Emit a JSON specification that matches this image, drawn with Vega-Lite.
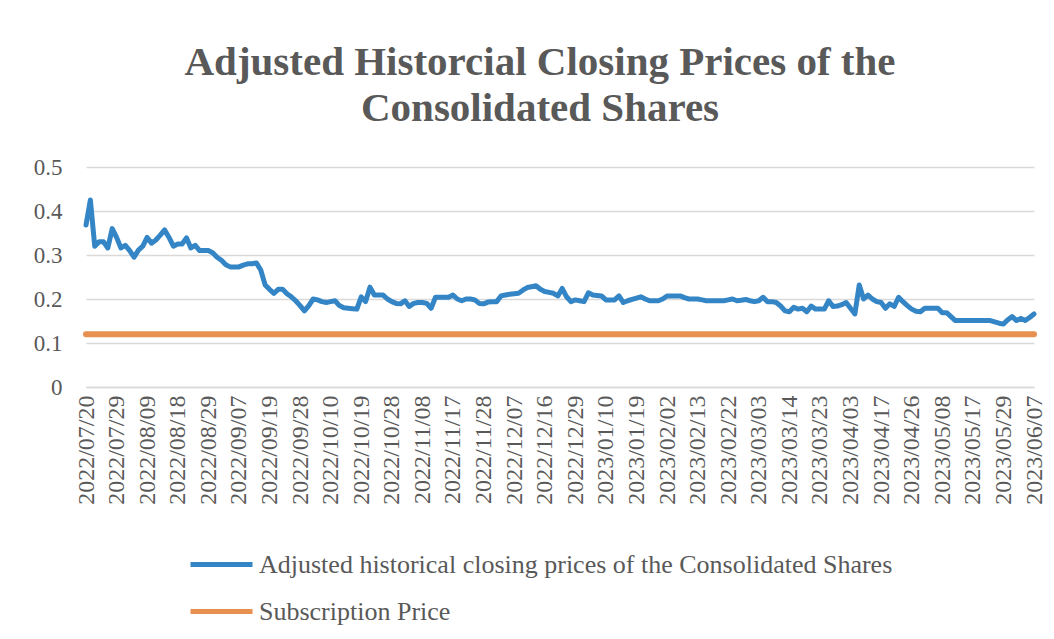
{
  "$schema": "https://vega.github.io/schema/vega-lite/v6.json",
  "autosize": {"type": "none"},
  "padding": {"left": 86, "top": 167, "right": 20, "bottom": 252},
  "width": 948,
  "height": 220,
  "background": "white",
  "title": {
    "text": ["Adjusted Historcial Closing Prices of the", "Consolidated Shares"],
    "font": "Liberation Serif",
    "fontSize": 41,
    "fontWeight": "bold",
    "color": "#595959",
    "lineHeight": 46,
    "anchor": "middle",
    "dx": -20,
    "offset": 26
  },
  "data": {
    "values": [
      {"date": "2022/07/20", "price": 0.368},
      {"date": "2022/07/21", "price": 0.425},
      {"date": "2022/07/22", "price": 0.32},
      {"date": "2022/07/25", "price": 0.33},
      {"date": "2022/07/26", "price": 0.33},
      {"date": "2022/07/27", "price": 0.316},
      {"date": "2022/07/28", "price": 0.36},
      {"date": "2022/07/29", "price": 0.34},
      {"date": "2022/08/01", "price": 0.316},
      {"date": "2022/08/02", "price": 0.322},
      {"date": "2022/08/03", "price": 0.31},
      {"date": "2022/08/04", "price": 0.295},
      {"date": "2022/08/05", "price": 0.311},
      {"date": "2022/08/08", "price": 0.32},
      {"date": "2022/08/09", "price": 0.34},
      {"date": "2022/08/10", "price": 0.327},
      {"date": "2022/08/11", "price": 0.334},
      {"date": "2022/08/12", "price": 0.345},
      {"date": "2022/08/15", "price": 0.357},
      {"date": "2022/08/16", "price": 0.34},
      {"date": "2022/08/17", "price": 0.32},
      {"date": "2022/08/18", "price": 0.325},
      {"date": "2022/08/19", "price": 0.325},
      {"date": "2022/08/22", "price": 0.339},
      {"date": "2022/08/23", "price": 0.316},
      {"date": "2022/08/24", "price": 0.322},
      {"date": "2022/08/25", "price": 0.31},
      {"date": "2022/08/26", "price": 0.31},
      {"date": "2022/08/29", "price": 0.31},
      {"date": "2022/08/30", "price": 0.305},
      {"date": "2022/08/31", "price": 0.295},
      {"date": "2022/09/01", "price": 0.288},
      {"date": "2022/09/02", "price": 0.278},
      {"date": "2022/09/05", "price": 0.273},
      {"date": "2022/09/06", "price": 0.273},
      {"date": "2022/09/07", "price": 0.273},
      {"date": "2022/09/08", "price": 0.277},
      {"date": "2022/09/09", "price": 0.28},
      {"date": "2022/09/13", "price": 0.28},
      {"date": "2022/09/14", "price": 0.282},
      {"date": "2022/09/15", "price": 0.266},
      {"date": "2022/09/16", "price": 0.232},
      {"date": "2022/09/19", "price": 0.222},
      {"date": "2022/09/20", "price": 0.213},
      {"date": "2022/09/21", "price": 0.222},
      {"date": "2022/09/22", "price": 0.222},
      {"date": "2022/09/23", "price": 0.212},
      {"date": "2022/09/26", "price": 0.205},
      {"date": "2022/09/27", "price": 0.196},
      {"date": "2022/09/28", "price": 0.185},
      {"date": "2022/09/29", "price": 0.173},
      {"date": "2022/09/30", "price": 0.185},
      {"date": "2022/10/03", "price": 0.2},
      {"date": "2022/10/05", "price": 0.198},
      {"date": "2022/10/06", "price": 0.194},
      {"date": "2022/10/07", "price": 0.192},
      {"date": "2022/10/10", "price": 0.194},
      {"date": "2022/10/11", "price": 0.196},
      {"date": "2022/10/12", "price": 0.185},
      {"date": "2022/10/13", "price": 0.18},
      {"date": "2022/10/14", "price": 0.179},
      {"date": "2022/10/17", "price": 0.178},
      {"date": "2022/10/18", "price": 0.177},
      {"date": "2022/10/19", "price": 0.205},
      {"date": "2022/10/20", "price": 0.194},
      {"date": "2022/10/21", "price": 0.227},
      {"date": "2022/10/24", "price": 0.209},
      {"date": "2022/10/25", "price": 0.209},
      {"date": "2022/10/26", "price": 0.209},
      {"date": "2022/10/27", "price": 0.2},
      {"date": "2022/10/28", "price": 0.194},
      {"date": "2022/10/31", "price": 0.19},
      {"date": "2022/11/01", "price": 0.189},
      {"date": "2022/11/02", "price": 0.196},
      {"date": "2022/11/03", "price": 0.183},
      {"date": "2022/11/04", "price": 0.19},
      {"date": "2022/11/07", "price": 0.192},
      {"date": "2022/11/08", "price": 0.192},
      {"date": "2022/11/09", "price": 0.19},
      {"date": "2022/11/10", "price": 0.179},
      {"date": "2022/11/11", "price": 0.204},
      {"date": "2022/11/14", "price": 0.204},
      {"date": "2022/11/15", "price": 0.204},
      {"date": "2022/11/16", "price": 0.204},
      {"date": "2022/11/17", "price": 0.209},
      {"date": "2022/11/18", "price": 0.2},
      {"date": "2022/11/21", "price": 0.196},
      {"date": "2022/11/22", "price": 0.2},
      {"date": "2022/11/23", "price": 0.2},
      {"date": "2022/11/24", "price": 0.198},
      {"date": "2022/11/25", "price": 0.19},
      {"date": "2022/11/28", "price": 0.189},
      {"date": "2022/11/29", "price": 0.193},
      {"date": "2022/11/30", "price": 0.194},
      {"date": "2022/12/01", "price": 0.194},
      {"date": "2022/12/02", "price": 0.207},
      {"date": "2022/12/05", "price": 0.209},
      {"date": "2022/12/06", "price": 0.211},
      {"date": "2022/12/07", "price": 0.212},
      {"date": "2022/12/08", "price": 0.213},
      {"date": "2022/12/09", "price": 0.22},
      {"date": "2022/12/12", "price": 0.226},
      {"date": "2022/12/13", "price": 0.228},
      {"date": "2022/12/14", "price": 0.23},
      {"date": "2022/12/15", "price": 0.222},
      {"date": "2022/12/16", "price": 0.217},
      {"date": "2022/12/19", "price": 0.215},
      {"date": "2022/12/20", "price": 0.213},
      {"date": "2022/12/21", "price": 0.207},
      {"date": "2022/12/22", "price": 0.224},
      {"date": "2022/12/23", "price": 0.205},
      {"date": "2022/12/28", "price": 0.194},
      {"date": "2022/12/29", "price": 0.198},
      {"date": "2022/12/30", "price": 0.196},
      {"date": "2023/01/03", "price": 0.194},
      {"date": "2023/01/04", "price": 0.214},
      {"date": "2023/01/05", "price": 0.209},
      {"date": "2023/01/06", "price": 0.208},
      {"date": "2023/01/09", "price": 0.207},
      {"date": "2023/01/10", "price": 0.198},
      {"date": "2023/01/11", "price": 0.198},
      {"date": "2023/01/12", "price": 0.198},
      {"date": "2023/01/13", "price": 0.207},
      {"date": "2023/01/16", "price": 0.192},
      {"date": "2023/01/17", "price": 0.196},
      {"date": "2023/01/18", "price": 0.199},
      {"date": "2023/01/19", "price": 0.202},
      {"date": "2023/01/20", "price": 0.205},
      {"date": "2023/01/26", "price": 0.2},
      {"date": "2023/01/27", "price": 0.196},
      {"date": "2023/01/30", "price": 0.196},
      {"date": "2023/01/31", "price": 0.196},
      {"date": "2023/02/01", "price": 0.2},
      {"date": "2023/02/02", "price": 0.207},
      {"date": "2023/02/03", "price": 0.207},
      {"date": "2023/02/06", "price": 0.207},
      {"date": "2023/02/07", "price": 0.207},
      {"date": "2023/02/08", "price": 0.203},
      {"date": "2023/02/09", "price": 0.2},
      {"date": "2023/02/10", "price": 0.2},
      {"date": "2023/02/13", "price": 0.2},
      {"date": "2023/02/14", "price": 0.198},
      {"date": "2023/02/15", "price": 0.196},
      {"date": "2023/02/16", "price": 0.196},
      {"date": "2023/02/17", "price": 0.196},
      {"date": "2023/02/20", "price": 0.196},
      {"date": "2023/02/21", "price": 0.196},
      {"date": "2023/02/22", "price": 0.198},
      {"date": "2023/02/23", "price": 0.2},
      {"date": "2023/02/24", "price": 0.196},
      {"date": "2023/02/27", "price": 0.197},
      {"date": "2023/02/28", "price": 0.199},
      {"date": "2023/03/01", "price": 0.196},
      {"date": "2023/03/02", "price": 0.194},
      {"date": "2023/03/03", "price": 0.196},
      {"date": "2023/03/06", "price": 0.204},
      {"date": "2023/03/07", "price": 0.194},
      {"date": "2023/03/08", "price": 0.194},
      {"date": "2023/03/09", "price": 0.192},
      {"date": "2023/03/10", "price": 0.184},
      {"date": "2023/03/13", "price": 0.173},
      {"date": "2023/03/14", "price": 0.171},
      {"date": "2023/03/15", "price": 0.181},
      {"date": "2023/03/16", "price": 0.177},
      {"date": "2023/03/17", "price": 0.179},
      {"date": "2023/03/20", "price": 0.171},
      {"date": "2023/03/21", "price": 0.184},
      {"date": "2023/03/22", "price": 0.177},
      {"date": "2023/03/23", "price": 0.177},
      {"date": "2023/03/24", "price": 0.177},
      {"date": "2023/03/27", "price": 0.196},
      {"date": "2023/03/28", "price": 0.183},
      {"date": "2023/03/29", "price": 0.184},
      {"date": "2023/03/30", "price": 0.187},
      {"date": "2023/03/31", "price": 0.192},
      {"date": "2023/04/03", "price": 0.179},
      {"date": "2023/04/04", "price": 0.166},
      {"date": "2023/04/06", "price": 0.232},
      {"date": "2023/04/11", "price": 0.2},
      {"date": "2023/04/12", "price": 0.209},
      {"date": "2023/04/13", "price": 0.2},
      {"date": "2023/04/14", "price": 0.194},
      {"date": "2023/04/17", "price": 0.192},
      {"date": "2023/04/18", "price": 0.179},
      {"date": "2023/04/19", "price": 0.189},
      {"date": "2023/04/20", "price": 0.183},
      {"date": "2023/04/21", "price": 0.204},
      {"date": "2023/04/24", "price": 0.194},
      {"date": "2023/04/25", "price": 0.185},
      {"date": "2023/04/26", "price": 0.177},
      {"date": "2023/04/27", "price": 0.172},
      {"date": "2023/04/28", "price": 0.171},
      {"date": "2023/05/02", "price": 0.179},
      {"date": "2023/05/03", "price": 0.179},
      {"date": "2023/05/04", "price": 0.179},
      {"date": "2023/05/05", "price": 0.179},
      {"date": "2023/05/08", "price": 0.169},
      {"date": "2023/05/09", "price": 0.169},
      {"date": "2023/05/10", "price": 0.16},
      {"date": "2023/05/11", "price": 0.151},
      {"date": "2023/05/12", "price": 0.151},
      {"date": "2023/05/15", "price": 0.151},
      {"date": "2023/05/16", "price": 0.151},
      {"date": "2023/05/17", "price": 0.151},
      {"date": "2023/05/18", "price": 0.151},
      {"date": "2023/05/19", "price": 0.151},
      {"date": "2023/05/22", "price": 0.151},
      {"date": "2023/05/23", "price": 0.151},
      {"date": "2023/05/24", "price": 0.148},
      {"date": "2023/05/25", "price": 0.145},
      {"date": "2023/05/29", "price": 0.143},
      {"date": "2023/05/30", "price": 0.153},
      {"date": "2023/05/31", "price": 0.16},
      {"date": "2023/06/01", "price": 0.151},
      {"date": "2023/06/02", "price": 0.156},
      {"date": "2023/06/05", "price": 0.151},
      {"date": "2023/06/06", "price": 0.158},
      {"date": "2023/06/07", "price": 0.166}
    ]
  },
  "encoding": {
    "x": {
      "field": "date",
      "type": "ordinal",
      "sort": null,
      "scale": {"type": "point", "padding": 0},
      "axis": {
        "title": null,
        "values": ["2022/07/20", "2022/07/29", "2022/08/09", "2022/08/18", "2022/08/29", "2022/09/07", "2022/09/19", "2022/09/28", "2022/10/10", "2022/10/19", "2022/10/28", "2022/11/08", "2022/11/17", "2022/11/28", "2022/12/07", "2022/12/16", "2022/12/29", "2023/01/10", "2023/01/19", "2023/02/02", "2023/02/13", "2023/02/22", "2023/03/03", "2023/03/14", "2023/03/23", "2023/04/03", "2023/04/17", "2023/04/26", "2023/05/08", "2023/05/17", "2023/05/29", "2023/06/07"],
        "labelAngle": -90,
        "labelFont": "Liberation Serif",
        "labelFontSize": 24,
        "labelColor": "#595959",
        "labelPadding": 8,
        "labelOverlap": false,
        "ticks": false,
        "domain": true,
        "domainColor": "#d9d9d9",
        "domainWidth": 1.5,
        "grid": false
      }
    }
  },
  "layer": [
    {
      "mark": {"type": "line", "strokeWidth": 5, "strokeCap": "round", "strokeJoin": "round"},
      "encoding": {
        "y": {
          "field": "price",
          "type": "quantitative",
          "scale": {"domain": [0, 0.5], "nice": false},
          "axis": {
            "title": null,
            "values": [0, 0.1, 0.2, 0.3, 0.4, 0.5],
            "format": "~g",
            "labelFont": "Liberation Serif",
            "labelFontSize": 23,
            "labelColor": "#595959",
            "labelPadding": 24,
            "ticks": false,
            "domain": false,
            "grid": true,
            "gridColor": "#d9d9d9",
            "gridWidth": 1.5
          }
        },
        "color": {
          "datum": "Adjusted historical closing prices of the Consolidated Shares",
          "type": "nominal",
          "scale": {
            "domain": ["Adjusted historical closing prices of the Consolidated Shares", "Subscription Price"],
            "range": ["#3385c6", "#e8904f"]
          },
          "legend": {
            "title": null,
            "orient": "none",
            "legendX": 102,
            "legendY": 364,
            "direction": "vertical",
            "symbolType": "stroke",
            "symbolSize": 3844,
            "symbolStrokeWidth": 5,
            "labelFont": "Liberation Serif",
            "labelFontSize": 26,
            "labelColor": "#595959",
            "labelLimit": 900,
            "labelOffset": 4,
            "rowPadding": -2
          }
        }
      }
    },
    {
      "mark": {"type": "line", "strokeWidth": 6, "strokeCap": "round"},
      "encoding": {
        "y": {"datum": 0.12, "type": "quantitative"},
        "color": {"datum": "Subscription Price", "type": "nominal"}
      }
    }
  ],
  "config": {
    "view": {"stroke": null}
  }
}
